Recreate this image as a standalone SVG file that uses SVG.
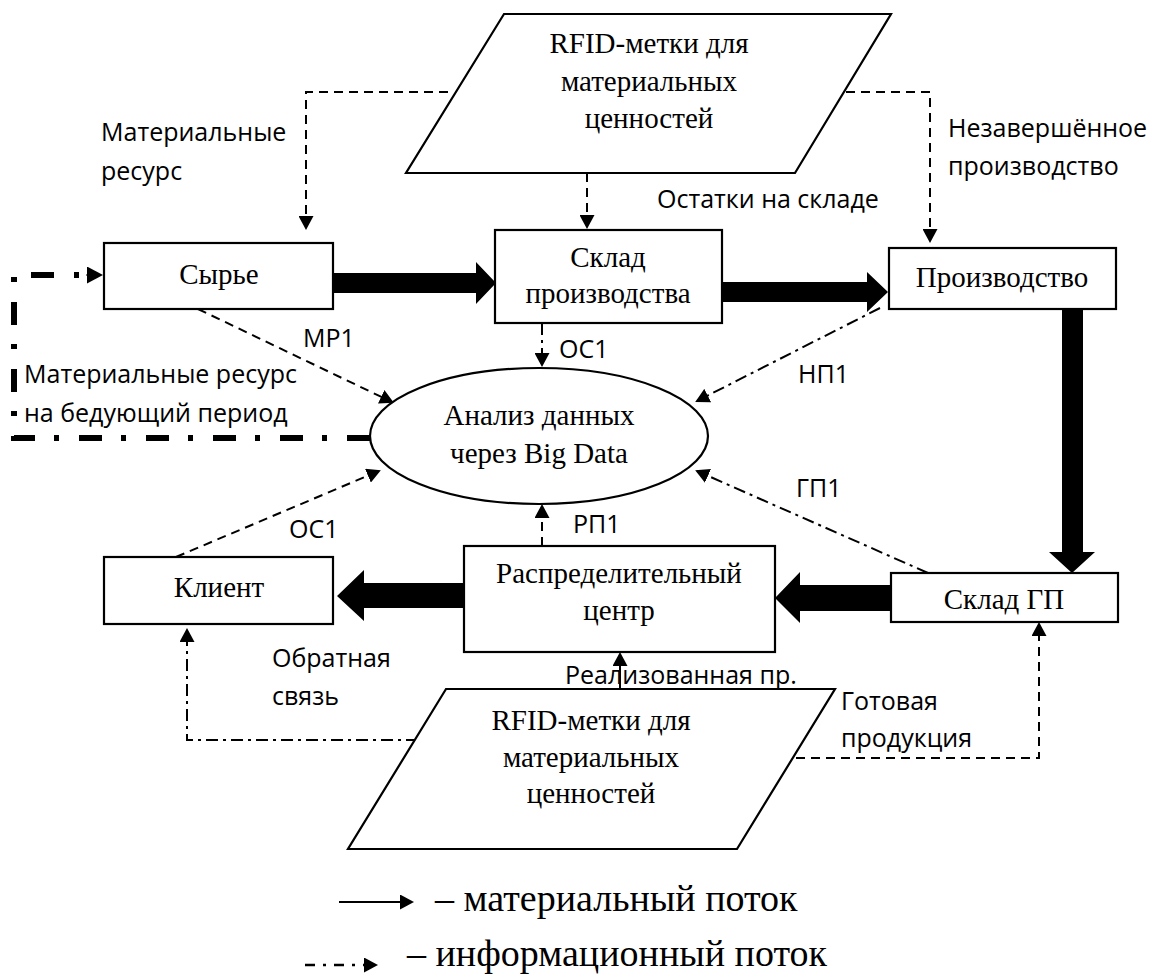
<svg xmlns="http://www.w3.org/2000/svg" width="1163" height="977" viewBox="0 0 1163 977">
  <style>
    .box { fill: #fff; stroke: #000; stroke-width: 2.2; }
    .node { font-family: "Liberation Serif", "Times New Roman", serif; font-size: 29px; fill: #000; text-anchor: middle; }
    .lbl { font-family: "Open Sans", "Noto Sans", "Liberation Sans", sans-serif; font-size: 25px; fill: #000; }
    .legend { font-family: "Liberation Serif", "Times New Roman", serif; font-size: 38px; fill: #000; }
    .dash { fill: none; stroke: #000; stroke-width: 2; stroke-dasharray: 9 6; }
    .dashdot { fill: none; stroke: #000; stroke-width: 2; stroke-dasharray: 12 5 3 5; }
    .solid { fill: none; stroke: #000; stroke-width: 2; }
    .thick { fill: #000; stroke: none; }
    .loop { fill: none; stroke: #000; stroke-width: 6; stroke-dasharray: 23 20 5 19; }
  </style>
  <defs>
    <marker id="ah" markerUnits="userSpaceOnUse" markerWidth="15" markerHeight="15" refX="12" refY="7.5" orient="auto">
      <path d="M0,0 L14,7.5 L0,15 z" fill="#000"/>
    </marker>
    <marker id="ahOut" markerUnits="userSpaceOnUse" markerWidth="17" markerHeight="17" refX="0" refY="8.5" orient="auto">
      <path d="M0,0 L16,8.5 L0,17 z" fill="#000"/>
    </marker>
  </defs>

  <rect width="1163" height="977" fill="#fff"/>

  <!-- connectors -->
  <g id="connectors">
    <!-- material flow (thick block arrows) -->
    <polygon class="thick" points="333,273 476,273 476,262 496,283 476,304 476,293 333,293"/>
    <polygon class="thick" points="722,282 867,282 867,272 888,292 867,312 867,302 722,302"/>
    <polygon class="thick" points="1062,309 1083,309 1083,552 1095,552 1072,573 1049,552 1062,552"/>
    <polygon class="thick" points="891,585 800,585 800,572 775,598 800,623 800,611 891,611"/>
    <polygon class="thick" points="464,583 364,583 364,570 337,596 364,621 364,608 464,608"/>

    <!-- RFID (top) to nodes -->
    <path class="dash" d="M448,92 H306 V228" marker-end="url(#ah)"/>
    <path class="dash" d="M587,173 V227" marker-end="url(#ah)"/>
    <path class="dash" d="M846,92 H930 V241" marker-end="url(#ah)"/>

    <!-- nodes to data analysis -->
    <path class="dash" d="M198,309 L392,402" marker-end="url(#ah)"/>
    <path class="dashdot" d="M542,323 V365" marker-end="url(#ah)"/>
    <path class="dashdot" d="M880,308 L697,401" marker-end="url(#ah)"/>
    <path class="dashdot" d="M928,573 L697,471" marker-end="url(#ah)"/>
    <path class="dash" d="M542,546 V506" marker-end="url(#ah)"/>
    <path class="dash" d="M176,557 L379,471" marker-end="url(#ah)"/>

    <!-- material resources for the next period -->
    <path class="loop" d="M370,438 H14 V275 H80"/>
    <line x1="86" y1="275" x2="87" y2="275" stroke="#000" stroke-width="1" marker-end="url(#ahOut)"/>

    <!-- RFID (bottom) to nodes -->
    <path class="solid" d="M620,689 V654" marker-end="url(#ah)"/>
    <path class="dashdot" d="M418,740 H187 V630" marker-end="url(#ah)"/>
    <path class="dash" d="M796,758 H1039 V624" marker-end="url(#ah)"/>
  </g>

  <!-- nodes -->
  <g id="rfid-top">
    <polygon class="box" points="504,14 891,14 795,173 406,173"/>
    <text class="node" x="649" y="53">RFID-метки для</text>
    <text class="node" x="649" y="91">материальных</text>
    <text class="node" x="649" y="128">ценностей</text>
  </g>
  <g id="syrye">
    <rect class="box" x="104" y="243" width="229" height="66"/>
    <text class="node" x="219" y="284">Сырье</text>
  </g>
  <g id="sklad-proizvodstva">
    <rect class="box" x="495" y="230" width="227" height="93"/>
    <text class="node" x="608" y="267">Склад</text>
    <text class="node" x="608" y="303">производства</text>
  </g>
  <g id="proizvodstvo">
    <rect class="box" x="889" y="248" width="227" height="61"/>
    <text class="node" x="1002" y="287">Производство</text>
  </g>
  <g id="analiz">
    <ellipse class="box" cx="539" cy="436" rx="169" ry="68"/>
    <text class="node" x="539" y="425">Анализ данных</text>
    <text class="node" x="539" y="463">через Big Data</text>
  </g>
  <g id="klient">
    <rect class="box" x="104" y="557" width="229" height="67"/>
    <text class="node" x="219" y="597">Клиент</text>
  </g>
  <g id="raspred-centr">
    <rect class="box" x="464" y="546" width="311" height="106"/>
    <text class="node" x="619" y="583">Распределительный</text>
    <text class="node" x="619" y="620">центр</text>
  </g>
  <g id="sklad-gp">
    <rect class="box" x="891" y="573" width="227" height="49"/>
    <text class="node" x="1004" y="609">Склад ГП</text>
  </g>
  <g id="rfid-bottom">
    <polygon class="box" points="446,689 835,689 737,849 348,849"/>
    <text class="node" x="591" y="730">RFID-метки для</text>
    <text class="node" x="591" y="767">материальных</text>
    <text class="node" x="591" y="803">ценностей</text>
  </g>

  <!-- connector labels -->
  <g id="labels">
    <text class="lbl" x="101" y="141">Материальные</text>
    <text class="lbl" x="101" y="180">ресурс</text>
    <text class="lbl" x="948" y="137">Незавершённое</text>
    <text class="lbl" x="948" y="175">производство</text>
    <text class="lbl" x="657" y="208">Остатки на складе</text>
    <text class="lbl" x="303" y="347">МР1</text>
    <text class="lbl" x="559" y="358">ОС1</text>
    <text class="lbl" x="798" y="383">НП1</text>
    <text class="lbl" x="24" y="383">Материальные ресурс</text>
    <text class="lbl" x="24" y="422">на бедующий период</text>
    <text class="lbl" x="796" y="497">ГП1</text>
    <text class="lbl" x="289" y="538">ОС1</text>
    <text class="lbl" x="573" y="533">РП1</text>
    <text class="lbl" x="272" y="667">Обратная</text>
    <text class="lbl" x="272" y="705">связь</text>
    <text class="lbl" x="565" y="684">Реализованная пр.</text>
    <text class="lbl" x="841" y="710">Готовая</text>
    <text class="lbl" x="841" y="747">продукция</text>
  </g>

  <!-- legend -->
  <g id="legend">
    <path class="solid" d="M339,902 H412" stroke-width="2.5" marker-end="url(#ah)"/>
    <text class="legend" x="435" y="911">– материальный поток</text>
    <path d="M305,965 H376" fill="none" stroke="#000" stroke-width="2.5" stroke-dasharray="10 8 3 8" marker-end="url(#ah)"/>
    <text class="legend" x="407" y="966">– информационный поток</text>
  </g>
</svg>
